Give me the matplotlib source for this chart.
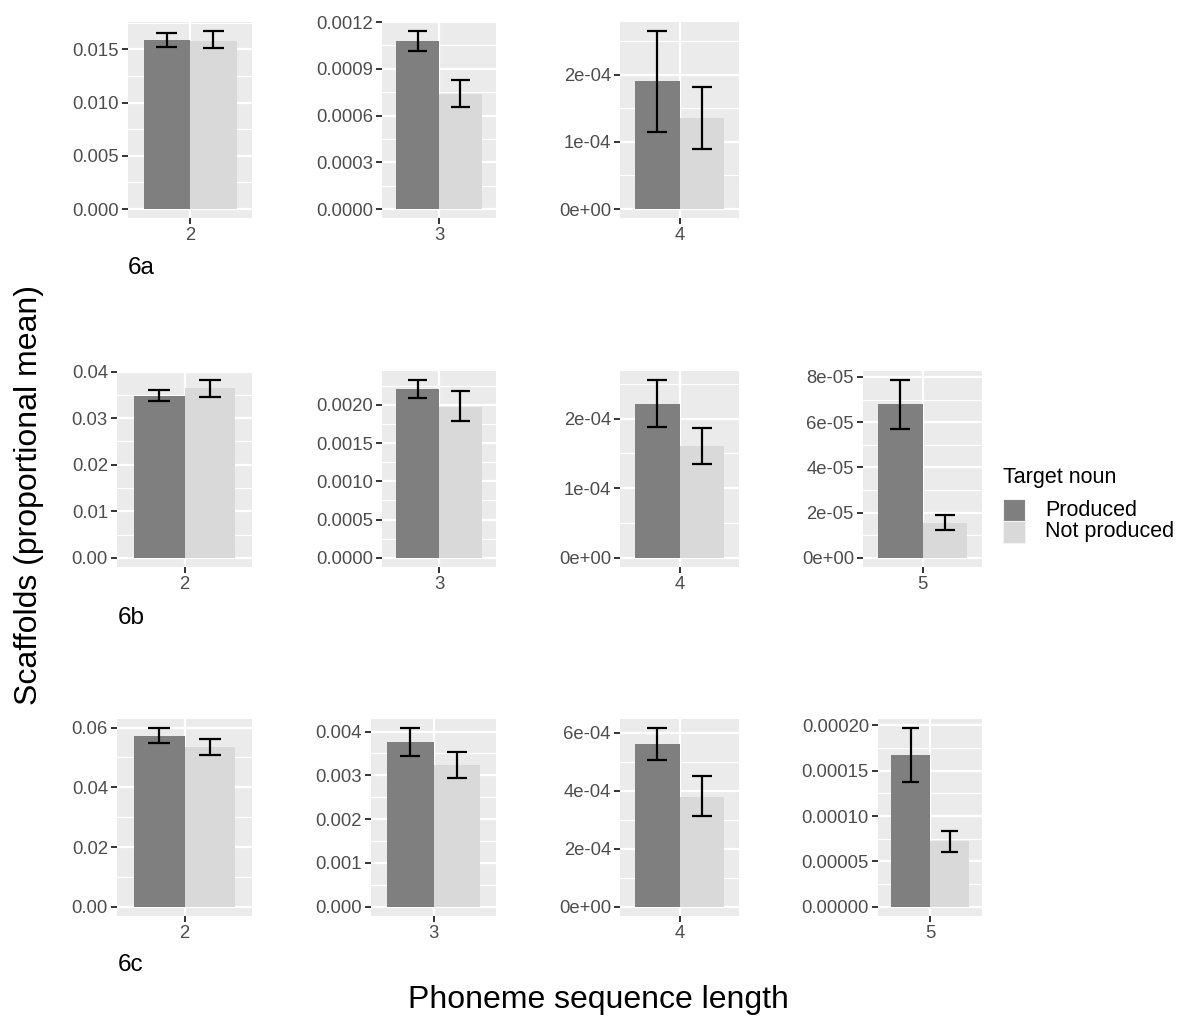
import matplotlib
matplotlib.use("Agg")
import matplotlib.pyplot as plt
from matplotlib.patches import Rectangle
import numpy as np

plt.rcParams['font.family'] = ['Liberation Sans', 'DejaVu Sans']

# ---------------- data ----------------
row_labels = ["6a", "6b", "6c"]
lengths_a = ["2", "3", "4"]
lengths_b = ["2", "3", "4", "5"]
lengths_c = ["2", "3", "4", "5"]

produced_mean_a = [0.01583, 0.001077, 1.90e-4]
produced_lo_a = [0.01520, 0.001015, 1.145e-4]
produced_hi_a = [0.01657, 0.001143, 2.65e-4]
notprod_mean_a = [0.01580, 0.000737, 1.353e-4]
notprod_lo_a = [0.01508, 0.000652, 0.893e-4]
notprod_hi_a = [0.01673, 0.000826, 1.818e-4]

produced_mean_b = [0.03486, 0.002204, 2.215e-4, 6.78e-5]
produced_lo_b = [0.03364, 0.002087, 1.88e-4, 5.69e-5]
produced_hi_b = [0.03607, 0.002330, 2.56e-4, 7.88e-5]
notprod_mean_b = [0.03643, 0.001978, 1.603e-4, 1.53e-5]
notprod_lo_b = [0.03457, 0.001783, 1.354e-4, 1.21e-5]
notprod_hi_b = [0.03829, 0.002187, 1.861e-4, 1.88e-5]

produced_mean_c = [0.0572, 0.003757, 5.60e-4, 1.667e-4]
produced_lo_c = [0.0549, 0.003431, 5.06e-4, 1.370e-4]
produced_hi_c = [0.0598, 0.004076, 6.16e-4, 1.967e-4]
notprod_mean_c = [0.0534, 0.003226, 3.80e-4, 7.22e-5]
notprod_lo_c = [0.0510, 0.002937, 3.14e-4, 6.08e-5]
notprod_hi_c = [0.0561, 0.003529, 4.50e-4, 8.39e-5]

yticks_a = [["0.000", "0.005", "0.010", "0.015"],
            ["0.0000", "0.0003", "0.0006", "0.0009", "0.0012"],
            ["0e+00", "1e-04", "2e-04"]]
yticks_b = [["0.00", "0.01", "0.02", "0.03", "0.04"],
            ["0.0000", "0.0005", "0.0010", "0.0015", "0.0020"],
            ["0e+00", "1e-04", "2e-04"],
            ["0e+00", "2e-05", "4e-05", "6e-05", "8e-05"]]
yticks_c = [["0.00", "0.02", "0.04", "0.06"],
            ["0.000", "0.001", "0.002", "0.003", "0.004"],
            ["0e+00", "2e-04", "4e-04", "6e-04"],
            ["0.00000", "0.00005", "0.00010", "0.00015", "0.00020"]]

series_names = ["Produced", "Not produced"]
legend_title = "Target noun"
x_title = "Phoneme sequence length"
y_title = "Scaffolds (proportional mean)"

# ---------------- layout (pixels) ----------------
W, H = 1178, 1017
DPI = 100
fig = plt.figure(figsize=(W / DPI, H / DPI), dpi=DPI)

col_lefts = [[128, 382, 620], [117, 382, 620, 863], [117, 371, 620, 878]]
col_rights = [252, 496, 739, 982]
row_tops = [22, 370.7, 719.3]
row_bottoms = [218, 566.7, 915.7]
row_label_y = [268, 618, 965]
row_label_x = [128, 118, 118]

dark = "#7F7F7F"
light = "#D9D9D9"
panel_bg = "#EBEBEB"

rows = [
    (lengths_a, produced_mean_a, produced_lo_a, produced_hi_a,
     notprod_mean_a, notprod_lo_a, notprod_hi_a, yticks_a),
    (lengths_b, produced_mean_b, produced_lo_b, produced_hi_b,
     notprod_mean_b, notprod_lo_b, notprod_hi_b, yticks_b),
    (lengths_c, produced_mean_c, produced_lo_c, produced_hi_c,
     notprod_mean_c, notprod_lo_c, notprod_hi_c, yticks_c),
]


def frac_rect(x0, x1, y0, y1):
    return [x0 / W, 1 - y1 / H, (x1 - x0) / W, (y1 - y0) / H]


for r, (lens, pm, plo, phi, nm, nlo, nhi, yt) in enumerate(rows):
    for c in range(len(lens)):
        ax = fig.add_axes(frac_rect(col_lefts[r][c], col_rights[c],
                                    row_tops[r], row_bottoms[r]))
        ax.set_facecolor(panel_bg)
        for s in ax.spines.values():
            s.set_visible(False)
        top = max(phi[c], nhi[c])
        ax.set_ylim(-0.05 * top, 1.05 * top)
        ax.set_xlim(-0.6, 0.6)
        ticks = [float(t) for t in yt[c]]
        step = ticks[1] - ticks[0]
        minors = [ticks[0] - step / 2] + [t + step / 2 for t in ticks]
        lo_lim, hi_lim = ax.get_ylim()
        for m in minors:
            if lo_lim < m < hi_lim:
                ax.axhline(m, color="white", lw=0.8, zorder=0.5)
        for t in ticks:
            ax.axhline(t, color="white", lw=1.6, zorder=0.6)
        ax.axvline(0, color="white", lw=1.6, zorder=0.6)

        xs = [-0.225, 0.225]
        means = [pm[c], nm[c]]
        los = [plo[c], nlo[c]]
        his = [phi[c], nhi[c]]
        ax.bar(xs, means, width=0.45, color=[dark, light], zorder=1)
        ax.vlines(xs, los, his, color="black", lw=1.6, zorder=2)
        for xv, l, h in zip(xs, los, his):
            ax.hlines([l, h], xv - 0.1, xv + 0.1, color="black", lw=1.6, zorder=2)

        ax.set_yticks(ticks)
        ax.set_yticklabels(yt[c])
        ax.set_xticks([0])
        ax.set_xticklabels([lens[c]])
        ax.tick_params(axis="both", length=4, width=1.4, color="#333333",
                       labelcolor="#4D4D4D", labelsize=13.3, pad=2.5)
        ax.grid(False)

    fig.text(row_label_x[r] / W, 1 - row_label_y[r] / H, row_labels[r],
             fontsize=17.5, color="black", ha="left", va="center")

fig.text(598 / W, 1 - 1008 / H, x_title, fontsize=23, ha="center",
         va="baseline", color="black")
fig.text(29 / W, 1 - 495 / H, y_title, fontsize=23, ha="center",
         va="center", rotation=90, color="black")

# legend (drawn in figure pixel coordinates)
fig.text(1003 / W, 1 - 477 / H, legend_title, fontsize=15.5,
         ha="left", va="center", color="black")
key_tops = [499, 521]
for name, col, kt in zip(series_names, [dark, light], key_tops):
    fig.patches.append(Rectangle((1003 / W, 1 - (kt + 22) / H), 22 / W, 22 / H,
                                 transform=fig.transFigure, facecolor=col,
                                 edgecolor="#F2F2F2", lw=0.8))
    fig.text(1045 / W, 1 - (kt + 11) / H, name, fontsize=15.5,
             ha="left", va="center", color="black")

fig.savefig("out.png", dpi=DPI)
